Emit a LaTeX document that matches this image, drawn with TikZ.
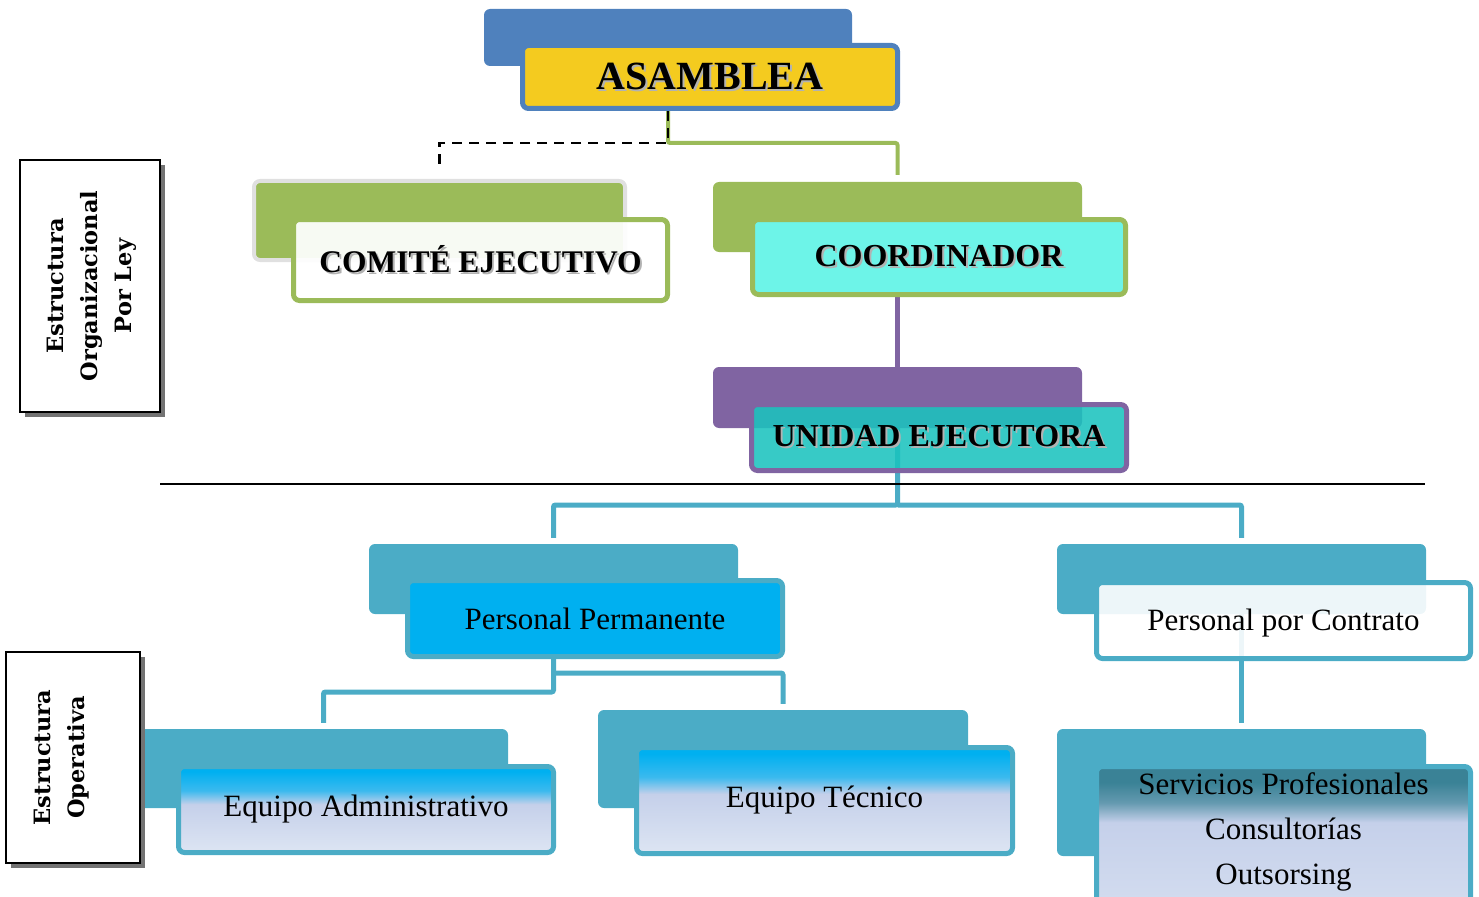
\documentclass[tikz,border=0pt]{standalone}
\usepackage{fontspec}
\setmainfont{Liberation Serif}
\newfontfamily\sidefont{DejaVu Serif}
\usepackage{tikz}
\usepackage{xcolor}
\usetikzlibrary{shadows}
\usetikzlibrary{backgrounds}

\definecolor{asamBlue}{HTML}{4F81BD}
\definecolor{asamYellow}{HTML}{F4CB1F}
\definecolor{lawGreen}{HTML}{9BBB59}
\definecolor{coordCyan}{HTML}{6DF4E8}
\definecolor{unidadPurple}{HTML}{8064A2}
\definecolor{unidadTeal}{HTML}{1BC3BE}
\definecolor{opsAqua}{HTML}{4BACC6}
\definecolor{permBlue}{HTML}{00B0F0}
\definecolor{lavMid}{HTML}{C5D0EA}
\definecolor{lavLight}{HTML}{DDE5F3}
\definecolor{servTop}{HTML}{3A8296}
\colorlet{permFade}{permBlue!70!lavMid}
\colorlet{servFade}{servTop!70!lavMid}

% gradients of the lower boxes
\pgfdeclareverticalshading{teamShade}{100bp}{color(0bp)=(lavLight); color(25bp)=(lavLight); color(53bp)=(lavMid); color(61bp)=(permFade); color(72bp)=(permBlue); color(100bp)=(permBlue)}
\pgfdeclareverticalshading{servShade}{100bp}{color(0bp)=(lavLight); color(25bp)=(lavLight); color(61bp)=(lavMid); color(66bp)=(servFade); color(71bp)=(servTop); color(100bp)=(servTop)}

% caps titles with a soft offset shadow
\newcommand{\shtext}[1]{\makebox[0pt][l]{\hspace{2pt}\raisebox{-2pt}{\textcolor{black!30}{#1}}}#1}

\begin{document}
\begin{tikzpicture}[x=1pt, y=-1pt, font=\fontsize{31}{37}\selectfont]
	\tikzstyle{backbox}=[rectangle, rounded corners=6pt, inner sep=0pt]
	\tikzstyle{frontbox}=[rectangle, rounded corners=6pt, line width=5pt, inner sep=0pt, align=center, text opacity=1]
	\tikzstyle{capsbox}=[font=\fontsize{32}{38}\selectfont\bfseries]
	\tikzstyle{conn}=[line width=5pt, rounded corners=2pt]
	\tikzstyle{sidebox}=[rectangle, draw=black, line width=2pt, fill=white, inner sep=0pt, drop shadow={shadow xshift=5pt, shadow yshift=-5pt, fill=black!55, opacity=1}]
	\tikzstyle{sidetext}=[font=\sidefont\bfseries\fontsize{22.5}{34}\selectfont, inner sep=0pt]

	\useasboundingbox (0,0) rectangle (1479,896);

	% organizacional por ley
	\node[backbox, fill=asamBlue, minimum width=368pt, minimum height=57pt] (asambleaB) at (668,37.5) {};
	\node[frontbox, draw=asamBlue, fill=asamYellow, minimum width=375pt, minimum height=63pt, font=\fontsize{40}{48}\selectfont\bfseries] (asamblea) at (710,77) {\shtext{ASAMBLEA}};

	\node[backbox, fill=lawGreen, draw=black!12, line width=4pt, minimum width=371pt, minimum height=79pt] (comiteB) at (439.5,220.5) {};
	\node[frontbox, draw=lawGreen, fill=white, fill opacity=0.93, minimum width=374pt, minimum height=81pt, font=\fontsize{31.5}{37}\selectfont\bfseries] (comite) at (480.5,260) {\shtext{COMITÉ EJECUTIVO}};

	\node[backbox, fill=lawGreen, minimum width=369pt, minimum height=70pt] (coordB) at (897.5,217) {};
	\node[frontbox, capsbox, draw=lawGreen, fill=coordCyan, minimum width=373pt, minimum height=75pt] (coord) at (939,257) {\shtext{COORDINADOR}};

	\node[backbox, fill=unidadPurple, minimum width=369pt, minimum height=61pt] (unidadB) at (897.5,397.5) {};
	\node[frontbox, capsbox, draw=unidadPurple, fill=unidadTeal, fill opacity=0.88, minimum width=375pt, minimum height=66pt] (unidad) at (939,437.5) {\shtext{UNIDAD EJECUTORA}};

	% operativa
	\node[backbox, fill=opsAqua, minimum width=369pt, minimum height=70pt] (permB) at (553.5,579) {};
	\node[frontbox, draw=opsAqua, fill=permBlue, minimum width=375pt, minimum height=76pt] (perm) at (595,618.5) {Personal Permanente};

	\node[backbox, fill=opsAqua, minimum width=369pt, minimum height=70pt] (contrB) at (1241.5,579) {};
	\node[frontbox, draw=opsAqua, fill=white, fill opacity=0.9, minimum width=374pt, minimum height=76pt, text depth=2pt] (contr) at (1283.5,620.5) {Personal por Contrato};

	\node[backbox, fill=opsAqua, minimum width=369pt, minimum height=79pt] (admB) at (323.5,768.5) {};
	\node[frontbox, draw=opsAqua, shading=teamShade, minimum width=375pt, minimum height=86pt] (adm) at (366,809.5) {Equipo Administrativo};

	\node[backbox, fill=opsAqua, minimum width=370pt, minimum height=98pt] (tecB) at (783,759) {};
	\node[frontbox, draw=opsAqua, shading=teamShade, minimum width=376pt, minimum height=106pt] (tec) at (824.5,800.5) {Equipo Técnico};

	\node[backbox, fill=opsAqua, minimum width=369pt, minimum height=127pt] (servB) at (1241.5,792.5) {};
	\node[frontbox, draw=opsAqua, shading=servShade, minimum width=374pt, minimum height=200pt] (serv) at (1283.5,866.5) {};
	\node[align=center, font=\fontsize{31}{45}\selectfont] (servT) at (1283.5,832) {Servicios Profesionales\\Consultorías\\Outsorsing};

	% side labels
	\node[sidebox, minimum width=140pt, minimum height=252pt] (lawBox) at (90,286) {};
	\node[sidetext] (lawText) at (91,286) {\rotatebox{90}{\begin{tabular}{c}Estructura\\Organizacional\\Por Ley\end{tabular}}};
	\node[sidebox, minimum width=134pt, minimum height=211pt] (opsBox) at (73,757.5) {};
	\node[sidetext] (opsText) at (61,757.5) {\rotatebox{90}{\begin{tabular}{c}Estructura\\Operativa\end{tabular}}};

	\coordinate (sepL) at (160,484);
	\coordinate (sepR) at (1425,484);
	\draw[line width=2pt] (sepL) -- (sepR);

	\begin{scope}[on background layer]
		\draw[conn, lawGreen, line width=4pt] (asambleaB |- asamblea.south) -- (asambleaB |- 0,143) -| ([yshift=7pt]coordB.north);
		\draw[black, line width=2.5pt, dash pattern=on 10pt off 7pt] (asambleaB |- asamblea.south) -- (asambleaB |- 0,143) -| ([yshift=12pt]comiteB.north);
		\draw[conn, unidadPurple] (coordB |- coord.south) -- (unidadB.north);
		\draw[conn, opsAqua] (unidadB.center) -- (unidadB.center |- 0,505) -| ([yshift=6pt]permB.north);
		\draw[conn, opsAqua] (unidadB.center |- 0,505) -| ([yshift=6pt]contrB.north);
		\draw[conn, opsAqua] (permB |- perm.south) -- (permB |- 0,692) -| ([yshift=6pt]admB.north);
		\draw[conn, opsAqua] (permB |- 0,673) -| ([yshift=6pt]tecB.north);
		\draw[conn, opsAqua] (contrB.center) -- ([yshift=6pt]servB.north);
	\end{scope}
\end{tikzpicture}
\end{document}
